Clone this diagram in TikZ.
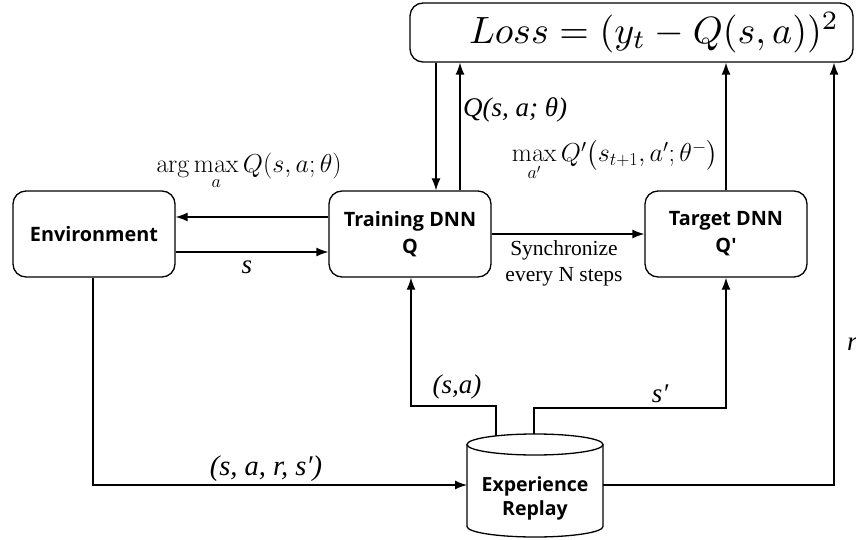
\RequirePackage{fix-cm}
\documentclass[tikz,border=0pt]{standalone}
\usepackage{amsmath}
\usepackage[no-math]{fontspec}
\usepackage{graphicx}
\setmainfont{Liberation Serif}
\newfontfamily\boxfont{Open Sans}
\usetikzlibrary{arrows.meta,calc}
\begin{document}
\begin{tikzpicture}[x=1pt,y=-1pt,
  box/.style={draw,line width=1.3pt,rounded corners=13pt,minimum width=162pt,minimum height=86pt,inner sep=0pt,align=center,font=\boxfont\bfseries\fontsize{19.8}{27}\selectfont},
  arr/.style={line width=1.3pt,-{Latex[length=12pt,width=9pt]}},
  ln/.style={line width=1.3pt},
  lab/.style={inner sep=0pt,font=\itshape\fontsize{27}{30}\selectfont},
  mlab/.style={inner sep=0pt,font=\fontsize{26}{30}\selectfont}]
\useasboundingbox (0,0) rectangle (856,540);
% boxes
\node[box] (env) at (94,234) {Environment};
\node[box] (train) at (410,234) {Training DNN\\Q};
\node[box] (target) at (726,234) {Target DNN\\Q'};
\node[box,minimum width=443pt,minimum height=59pt,font=\normalsize] (loss) at (631.5,32.5) {\hspace*{45pt}\scalebox{3.8}{$Loss=(y_t-Q(s,a))^2$}};
% cylinder
\draw[ln] (467,444.5) -- (467,526.5) arc[start angle=180,end angle=360,x radius=68pt,y radius=10.5pt] -- (603,444.5);
\draw[ln] (535,444.5) ellipse[x radius=68pt,y radius=10.5pt];
\node[inner sep=0pt,minimum width=136pt,minimum height=93pt,align=center,font=\boxfont\bfseries\fontsize{19.5}{24}\selectfont] (replay) at (535,498) {Experience\\Replay};
\coordinate (rtopL) at (496,436);
\coordinate (rtopR) at (534,434);
% connectors
\draw[arr] (train.west |- 0,217) -- (env.east |- 0,217);
\draw[arr] (env.east |- 0,252) -- (train.west |- 0,252);
\draw[arr] (train.east) -- (target.west);
\draw[arr] (loss.south -| 436,0) -- (train.north -| 436,0);
\draw[arr] (train.north -| 460,0) -- (loss.south -| 460,0);
\draw[arr] (target.north) -- (loss.south -| target.north);
\draw[arr] (rtopL) -- (496,406) -- (411,406) -- (train.south -| 411,0);
\draw[arr] (rtopR) -- (534,408) -| (target.south);
\draw[arr] (env.south -| 93,0) |- (467,485);
\draw[arr] (603,485) -| (loss.south -| 834,0);
% labels
\node[mlab,anchor=base] (lam) at (249,173) {$\arg\max\limits_a Q(s,a;\theta)$};
\node[mlab,anchor=base] (lmq) at (615,162) {$\max\limits_{a'} Q'\big(s_{t+1},a';\theta^-\big)$};
\node[lab,anchor=base west] (lq) at (463,117) {Q(s, a; θ)};
\node[inner sep=0pt,align=center,anchor=north,font=\fontsize{21.5}{26}\selectfont] (lsync) at (564,240) {Synchronize\\every N steps};
\node[lab,anchor=base] (ls) at (247,273) {s};
\node[lab,anchor=base] (lsa) at (457,393) {(s,a)};
\node[lab,anchor=base] (lsp) at (660,402) {s′};
\node[lab,anchor=base west] (lr) at (847,350) {r};
\node[lab,anchor=base,font=\itshape\fontsize{28.5}{30}\selectfont] (ltr) at (266,475) {(s, a, r, s′)};
\end{tikzpicture}
\end{document}
